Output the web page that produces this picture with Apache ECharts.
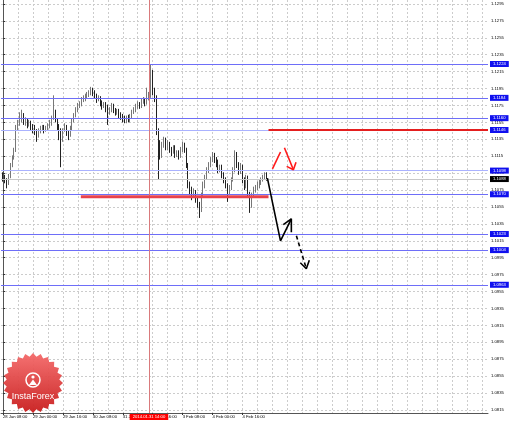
<!DOCTYPE html>
<html>
<head>
<meta charset="utf-8">
<script src="https://cdn.jsdelivr.net/npm/echarts@6/dist/echarts.min.js"></script>
<style>
  html, body { margin: 0; padding: 0; background: #fff; }
  #chart { width: 510px; height: 424px; }
</style>
</head>
<body>
<div id="chart"></div>
<script>
// EURUSD H1, 28 Jan - 5 Feb 2014, bar index on x
const timeLabels = ['28 Jan 08:00', '29 Jan 00:00', '29 Jan 16:00', '30 Jan 08:00', '31 Jan 00:00',
  '31 Jan 16:00', '3 Feb 08:00', '4 Feb 00:00', '4 Feb 16:00'];
const barsPerLabel = 16;
const priceTicks = [1.0815, 1.0835, 1.0855, 1.0875, 1.0895, 1.0915, 1.0935, 1.0955, 1.0975, 1.0995,
  1.1015, 1.1035, 1.1055, 1.1075, 1.1095, 1.1115, 1.1135, 1.1155, 1.1175, 1.1195,
  1.1215, 1.1235, 1.1255, 1.1275, 1.1295];

// [open, close, low, high]
const candles = [
  [1.1092,1.1089,1.1085,1.1096],[1.1089,1.1087,1.1083,1.1093],[1.1087,1.1083,1.1077,1.1089],[1.1083,1.1092,1.1081,1.1094],
  [1.1092,1.1105,1.1089,1.1107],[1.1105,1.1113,1.1102,1.1116],[1.1113,1.1122,1.1111,1.1125],[1.1122,1.1148,1.1120,1.1152],
  [1.1148,1.1153,1.1146,1.1158],[1.1153,1.1160,1.1151,1.1167],[1.1160,1.1164,1.1155,1.1170],[1.1164,1.1155,1.1152,1.1166],
  [1.1155,1.1158,1.1151,1.1161],[1.1158,1.1152,1.1148,1.1160],[1.1152,1.1154,1.1150,1.1158],[1.1154,1.1150,1.1146,1.1157],
  [1.1150,1.1148,1.1142,1.1153],[1.1148,1.1145,1.1140,1.1152],[1.1145,1.1139,1.1132,1.1147],[1.1139,1.1146,1.1137,1.1148],
  [1.1146,1.1147,1.1142,1.1151],[1.1147,1.1150,1.1145,1.1152],[1.1150,1.1146,1.1142,1.1152],[1.1146,1.1148,1.1144,1.1151],
  [1.1148,1.1151,1.1146,1.1154],[1.1151,1.1153,1.1148,1.1158],[1.1153,1.1160,1.1151,1.1163],[1.1160,1.1167,1.1158,1.1187],
  [1.1167,1.1158,1.1155,1.1170],[1.1158,1.1151,1.1146,1.1160],[1.1151,1.1144,1.1134,1.1153],[1.1144,1.1137,1.1102,1.1148],
  [1.1137,1.1146,1.1132,1.1148],[1.1146,1.1150,1.1144,1.1154],[1.1150,1.1142,1.1139,1.1152],[1.1142,1.1140,1.1134,1.1146],
  [1.1140,1.1148,1.1138,1.1151],[1.1148,1.1158,1.1146,1.1160],[1.1158,1.1164,1.1155,1.1166],[1.1164,1.1170,1.1161,1.1173],
  [1.1170,1.1174,1.1167,1.1178],[1.1174,1.1177,1.1172,1.1180],[1.1177,1.1181,1.1174,1.1185],[1.1181,1.1184,1.1179,1.1187],
  [1.1184,1.1185,1.1180,1.1189],[1.1185,1.1187,1.1183,1.1191],[1.1187,1.1190,1.1185,1.1193],[1.1190,1.1193,1.1187,1.1197],
  [1.1193,1.1190,1.1186,1.1196],[1.1190,1.1186,1.1183,1.1193],[1.1186,1.1183,1.1178,1.1189],[1.1183,1.1184,1.1180,1.1187],
  [1.1184,1.1178,1.1174,1.1186],[1.1178,1.1174,1.1170,1.1181],[1.1174,1.1177,1.1172,1.1179],[1.1177,1.1172,1.1167,1.1179],
  [1.1172,1.1167,1.1152,1.1176],[1.1167,1.1170,1.1164,1.1173],[1.1170,1.1174,1.1167,1.1178],[1.1174,1.1170,1.1166,1.1177],
  [1.1170,1.1166,1.1163,1.1172],[1.1166,1.1168,1.1164,1.1171],[1.1168,1.1164,1.1160,1.1171],[1.1164,1.1161,1.1158,1.1167],
  [1.1161,1.1159,1.1155,1.1165],[1.1159,1.1157,1.1154,1.1163],[1.1157,1.1160,1.1154,1.1163],[1.1160,1.1158,1.1155,1.1164],
  [1.1158,1.1163,1.1155,1.1165],[1.1163,1.1167,1.1160,1.1170],[1.1167,1.1170,1.1165,1.1173],[1.1170,1.1173,1.1167,1.1177],
  [1.1173,1.1177,1.1171,1.1180],[1.1177,1.1174,1.1171,1.1179],[1.1174,1.1179,1.1172,1.1183],[1.1179,1.1181,1.1177,1.1185],
  [1.1181,1.1178,1.1174,1.1184],[1.1178,1.1185,1.1176,1.1196],[1.1185,1.1187,1.1181,1.1191],[1.1187,1.1215,1.1184,1.1223],
  [1.1215,1.1191,1.1187,1.1217],[1.1191,1.1185,1.1179,1.1196],[1.1185,1.1146,1.1140,1.1187],[1.1146,1.1122,1.1087,1.1148],
  [1.1122,1.1116,1.1111,1.1134],[1.1116,1.1128,1.1113,1.1132],[1.1128,1.1134,1.1125,1.1138],[1.1134,1.1125,1.1122,1.1137],
  [1.1125,1.1131,1.1122,1.1134],[1.1131,1.1122,1.1119,1.1132],[1.1122,1.1120,1.1115,1.1126],[1.1120,1.1126,1.1118,1.1128],
  [1.1126,1.1116,1.1113,1.1128],[1.1116,1.1120,1.1114,1.1122],[1.1120,1.1115,1.1111,1.1122],[1.1115,1.1122,1.1113,1.1126],
  [1.1122,1.1128,1.1120,1.1132],[1.1128,1.1122,1.1119,1.1131],[1.1122,1.1105,1.1101,1.1125],[1.1105,1.1081,1.1077,1.1107],
  [1.1081,1.1075,1.1069,1.1085],[1.1075,1.1069,1.1063,1.1079],[1.1069,1.1073,1.1067,1.1077],[1.1073,1.1063,1.1060,1.1075],
  [1.1063,1.1057,1.1054,1.1067],[1.1057,1.1051,1.1042,1.1061],[1.1051,1.1069,1.1049,1.1072],[1.1069,1.1081,1.1066,1.1085],
  [1.1081,1.1089,1.1077,1.1093],[1.1089,1.1099,1.1087,1.1102],[1.1099,1.1105,1.1095,1.1108],[1.1105,1.1111,1.1102,1.1114],
  [1.1111,1.1116,1.1108,1.1120],[1.1116,1.1111,1.1107,1.1119],[1.1111,1.1107,1.1102,1.1114],[1.1107,1.1099,1.1095,1.1111],
  [1.1099,1.1101,1.1096,1.1105],[1.1101,1.1093,1.1089,1.1105],[1.1093,1.1087,1.1083,1.1096],[1.1087,1.1081,1.1077,1.1090],
  [1.1081,1.1073,1.1061,1.1083],[1.1073,1.1077,1.1069,1.1081],[1.1077,1.1087,1.1075,1.1090],[1.1087,1.1099,1.1085,1.1102],
  [1.1099,1.1116,1.1096,1.1122],[1.1116,1.1105,1.1101,1.1120],[1.1105,1.1096,1.1093,1.1108],[1.1096,1.1101,1.1094,1.1107],
  [1.1101,1.1087,1.1083,1.1105],[1.1087,1.1081,1.1075,1.1090],[1.1081,1.1089,1.1077,1.1093],[1.1089,1.1069,1.1066,1.1092],
  [1.1069,1.1057,1.1048,1.1073],[1.1057,1.1069,1.1054,1.1072],[1.1069,1.1075,1.1066,1.1079],[1.1075,1.1077,1.1072,1.1081],
  [1.1077,1.1081,1.1075,1.1085],[1.1081,1.1083,1.1077,1.1087],[1.1083,1.1087,1.1081,1.1090],[1.1087,1.1089,1.1085,1.1093],
  [1.1089,1.1094,1.1087,1.1096],[1.1094,1.1088,1.1086,1.1096]
];

const blueLevels = [1.1224, 1.1184, 1.1160, 1.1146, 1.1098, 1.1070, 1.1023, 1.1004, 1.0963];
const paleLevels = [1.1146, 1.1098];
const bidPrice = 1.1088;
const markedBar = 78;
const markedTime = '2014.01.31 14:00';

// drawn objects, [bar index, price]
const supportLine = [[41.6, 1.1067], [141.9, 1.1067]];
const resistLine = [[141.9, 1.1146], [259.2, 1.1146]];
const redUp = [[144.0, 1.1100], [148.3, 1.1120]];
const redDown = [[150.4, 1.1125], [155.2, 1.1099]];
const redHead = [[151.6, 1.1103], [155.2, 1.1099], [156.6, 1.1108]];
const blackPath = [[141.3, 1.1089], [148.3, 1.1015], [154.1, 1.1041]];
const blackHead = [[149.8, 1.1034], [154.1, 1.1041], [154.1, 1.1025]];
const dashPath = [[156.8, 1.1021], [162.1, 1.0982]];
const dashHead = [[158.9, 1.0989], [162.1, 1.0982], [163.7, 1.0992]];

const labelBars = timeLabels.map((_, i) => i * barsPerLabel);
const gridBars = [];
for (let b = 0; b <= 259; b += barsPerLabel / 2) gridBars.push(b);

const font = 'Liberation Sans';
const fs = 4.2;

function drawn(points, color, width, dashed) {
  return {
    type: 'line',
    data: points,
    symbol: 'none',
    silent: true,
    z: 6,
    lineStyle: { color: color, width: width, type: dashed ? [4, 3] : 'solid' },
  };
}

function priceTag(v, bg) {
  return {
    show: true, position: 'end', distance: 2, formatter: v.toFixed(4),
    color: '#fff', backgroundColor: bg, padding: [1, 3], fontSize: fs, fontFamily: font,
  };
}

const levelLines = blueLevels.map(v => ({
  yAxis: v,
  lineStyle: { color: paleLevels.includes(v) ? '#aab2ff' : '#6e6ef8', width: 1, type: 'solid' },
  label: priceTag(v, '#1010ee'),
}));

// InstaForex badge
const star = [];
for (let k = 0; k < 48; k++) {
  const a = k * Math.PI / 24;
  const r = k % 2 ? 26.5 : 30;
  star.push([33 + r * Math.sin(a), 383 - r * Math.cos(a)]);
}

const chart = echarts.init(document.getElementById('chart'));
chart.setOption({
  animation: false,
  backgroundColor: '#fff',
  textStyle: { fontFamily: font },
  grid: { left: 0, right: 22, top: 0, bottom: 11 },
  xAxis: [
    {
      type: 'value',
      min: -1.07,
      max: 259.2,
      position: 'bottom',
      axisLine: { show: true, lineStyle: { color: '#555', width: 1 } },
      axisTick: { show: false, customValues: gridBars },
      axisLabel: { show: false },
      splitLine: { show: true, lineStyle: { color: '#cccccc', type: [2, 2], width: 1 } },
    },
    {
      type: 'value',
      min: -1.07,
      max: 259.2,
      position: 'bottom',
      axisLine: { show: false },
      axisTick: { show: true, length: 2, customValues: labelBars, lineStyle: { color: '#333' } },
      axisLabel: {
        show: true, customValues: labelBars, align: 'left', margin: 2,
        fontSize: fs, color: '#000',
        formatter: v => timeLabels[Math.round(v / barsPerLabel)],
      },
      splitLine: { show: false },
    },
  ],
  yAxis: {
    type: 'value',
    position: 'right',
    min: 1.08114,
    max: 1.12997,
    axisLine: { show: true, lineStyle: { color: '#555', width: 1 } },
    axisTick: { show: true, length: 2, customValues: priceTicks, lineStyle: { color: '#333' } },
    axisLabel: {
      show: true, customValues: priceTicks, margin: 3, fontSize: fs, color: '#000',
      formatter: v => v.toFixed(4),
    },
    splitLine: { show: true, lineStyle: { color: '#cccccc', type: [2, 2], width: 1 } },
  },
  graphic: [
    {
      type: 'polygon', z: 1, silent: true,
      shape: { points: star },
      style: {
        fill: new echarts.graphic.LinearGradient(0, 0, 0, 1, [
          { offset: 0, color: '#f46a6a' },
          { offset: 1, color: '#c81c1c' },
        ]),
        opacity: 0.95,
      },
    },
    {
      type: 'circle', z: 2, silent: true,
      shape: { cx: 33, cy: 380, r: 7 },
      style: { fill: 'none', stroke: '#fff', lineWidth: 1.5 },
    },
    {
      type: 'circle', z: 2, silent: true,
      shape: { cx: 33, cy: 377, r: 1.6 },
      style: { fill: '#fff' },
    },
    {
      type: 'polygon', z: 2, silent: true,
      shape: { points: [[29, 385], [33, 379.5], [37, 385]] },
      style: { fill: '#fff' },
    },
    {
      type: 'text', z: 2, silent: true,
      style: {
        text: 'InstaForex', x: 33, y: 397, align: 'center', verticalAlign: 'middle',
        fill: '#fff', fontSize: 9, fontFamily: font,
      },
    },
  ],
  series: [
    {
      type: 'candlestick',
      data: candles.map((c, i) => [i, c[0], c[1], c[2], c[3]]),
      barWidth: 1.2,
      z: 3,
      itemStyle: {
        color: '#777', borderColor: '#777',
        color0: '#222', borderColor0: '#222',
        borderWidth: 1,
      },
      markLine: {
        silent: true,
        precision: 5,
        symbol: ['none', 'none'],
        data: [
          ...levelLines,
          {
            yAxis: bidPrice,
            lineStyle: { color: '#c8c8c8', width: 1, type: 'solid' },
            label: priceTag(bidPrice, '#000'),
          },
          {
            xAxis: markedBar,
            lineStyle: { color: '#d97a7c', width: 1, type: 'solid' },
            label: {
              show: true, position: 'start', distance: 1, formatter: markedTime,
              color: '#fff', backgroundColor: '#ff0000', padding: [1, 3], fontSize: fs, fontFamily: font,
            },
          },
        ],
      },
    },
    drawn(supportLine, '#e8424c', 3),
    drawn(resistLine, '#e41e1e', 2),
    drawn(redUp, '#ff1a1a', 1.6),
    drawn(redDown, '#ff1a1a', 1.6),
    drawn(redHead, '#ff1a1a', 1.6),
    drawn(blackPath, '#000', 1.6),
    drawn(blackHead, '#000', 1.6),
    drawn(dashPath, '#000', 1.6, true),
    drawn(dashHead, '#000', 1.6),
  ],
});
</script>
</body>
</html>
